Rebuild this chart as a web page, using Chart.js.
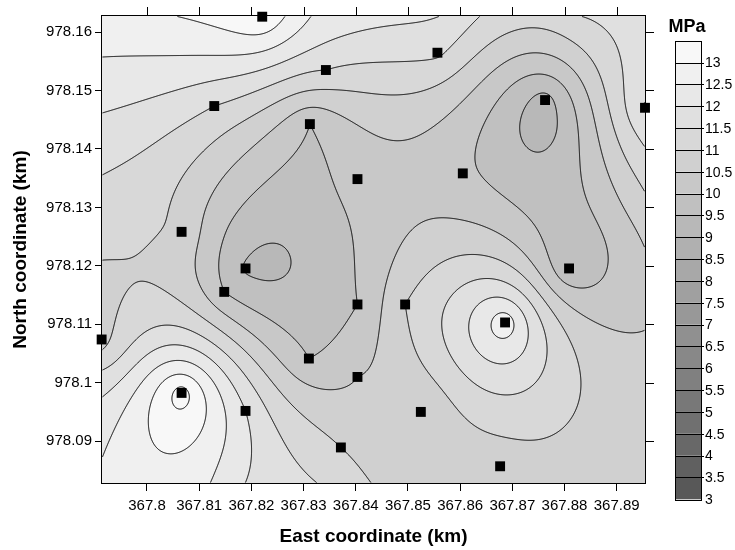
<!DOCTYPE html>
<html>
<head>
<meta charset="utf-8">
<script src="https://cdn.jsdelivr.net/npm/chart.js@4.4.1/dist/chart.umd.min.js"></script>
<style>
  html, body { margin: 0; padding: 0; background: #fff; }
</style>
</head>
<body>
<canvas id="stressMap" width="735" height="550"></canvas>
<script>
// sample locations (km) and stress measured there (MPa)
const eastKm = [367.82208, 367.85565, 367.83428, 367.81289, 367.87627, 367.89542,
  367.83121, 367.84033, 367.86051, 367.80663, 367.81888, 367.88087,
  367.81480, 367.84033, 367.84946, 367.86861, 367.79131, 367.83102,
  367.84033, 367.80663, 367.81888, 367.85247, 367.83715, 367.86766];
const northKm = [978.16262, 978.15646, 978.15350, 978.14734, 978.14836, 978.14704,
  978.14425, 978.13484, 978.13582, 978.12582, 978.11956, 978.11956,
  978.11555, 978.11340, 978.11340, 978.11032, 978.10741, 978.10415,
  978.10100, 978.09827, 978.09519, 978.09502, 978.08894, 978.08572];
const stressMPa = [13.5, 11.6, 11.5, 11.5, 9.3, 12.05,
  10.0, 10.25, 10.1, 10.9, 9.45, 9.5,
  10.0, 10.0, 11.0, 12.85, 10.85, 10.0,
  10.5, 13.75, 12.0, 10.5, 11.0, 10.75];

// values read along the frame of the map (km, km, MPa)
const edgeEastKm = [367.79138, 367.79138, 367.79138, 367.79138, 367.79138, 367.79138, 367.79138, 367.79138, 367.79138, 367.79138,
  367.80542, 367.82648, 367.83146, 367.85617, 367.86383, 367.87340, 367.88298, 367.89542,
  367.89542, 367.89542, 367.89542, 367.89542,
  367.80255, 367.81212, 367.81882, 367.83261, 367.84295];
const edgeNorthKm = [978.16274, 978.15572, 978.14614, 978.13553, 978.12098, 978.10558, 978.10215, 978.09753, 978.08709, 978.08286,
  978.16274, 978.16274, 978.16274, 978.16274, 978.16274, 978.16274, 978.16274, 978.16274,
  978.14032, 978.13262, 978.10900, 978.08286,
  978.08286, 978.08286, 978.08286, 978.08286, 978.08286];
const edgeStressMPa = [12.8, 12.5, 12.0, 11.5, 11.0, 11.0, 11.5, 12.0, 12.5, 12.7,
  13.0, 13.0, 12.5, 12.0, 11.5, 11.2, 11.5, 11.8,
  11.5, 11.0, 10.5, 10.7,
  12.8, 12.5, 12.0, 11.5, 11.0];

// a few values read inside the map, between samples (km, km, MPa)
const innerEastKm = [367.81308, 367.82323, 367.87627];
const innerNorthKm = [978.12782, 978.11995, 978.14357];
const innerStressMPa = [10.25, 9.4, 9.3];

const eastTicks = [367.8, 367.81, 367.82, 367.83, 367.84, 367.85, 367.86, 367.87, 367.88, 367.89];
const northTicks = [978.09, 978.1, 978.11, 978.12, 978.13, 978.14, 978.15, 978.16];
const eastRange = [367.79138, 367.89542];
const northRange = [978.08286, 978.16274];

// contour levels of the colour bar (MPa)
const levels = [3, 3.5, 4, 4.5, 5, 5.5, 6, 6.5, 7, 7.5, 8, 8.5, 9, 9.5, 10, 10.5, 11, 11.5, 12, 12.5, 13];
// contours drawn above the last colour-bar level
const extraLevels = [13.5, 14, 14.5];

// one grey per band, from below 3.5 up to above 13
const bandGrays = ['#585858', '#606060', '#686868', '#707070', '#787878', '#808080', '#888888',
  '#909090', '#989898', '#a0a0a0', '#a8a8a8', '#b0b0b0', '#b8b8b8', '#c0c0c0', '#c8c8c8',
  '#d0d0d0', '#d8d8d8', '#e0e0e0', '#e8e8e8', '#f0f0f0', '#f8f8f8'];

const FONT = "'Liberation Sans', Arial, sans-serif";

// ordinary kriging with a linear variogram
function solve(A, b) {
  const m = b.length;
  for (let c = 0; c < m; c++) {
    let p = c;
    for (let r = c + 1; r < m; r++) if (Math.abs(A[r][c]) > Math.abs(A[p][c])) p = r;
    [A[c], A[p]] = [A[p], A[c]];
    [b[c], b[p]] = [b[p], b[c]];
    for (let r = c + 1; r < m; r++) {
      const f = A[r][c] / A[c][c];
      for (let k = c; k < m; k++) A[r][k] -= f * A[c][k];
      b[r] -= f * b[c];
    }
  }
  const out = new Array(m).fill(0);
  for (let r = m - 1; r >= 0; r--) {
    let s = b[r];
    for (let k = r + 1; k < m; k++) s -= A[r][k] * out[k];
    out[r] = s / A[r][r];
  }
  return out;
}

const knotE = eastKm.concat(edgeEastKm, innerEastKm);
const knotN = northKm.concat(edgeNorthKm, innerNorthKm);
const knotV = stressMPa.concat(edgeStressMPa, innerStressMPa);
const n = knotE.length;
const krigA = [], krigB = [];
for (let i = 0; i < n; i++) {
  const row = [];
  for (let j = 0; j < n; j++) row.push(Math.hypot(knotE[i] - knotE[j], knotN[i] - knotN[j]));
  row.push(1);
  krigA.push(row);
  krigB.push(knotV[i]);
}
krigA.push(new Array(n).fill(1).concat([0]));
krigB.push(0);
const weights = solve(krigA, krigB);

function stressAt(e, nk) {
  let s = weights[n];
  for (let i = 0; i < n; i++) s += weights[i] * Math.hypot(e - knotE[i], nk - knotN[i]);
  return s;
}

function bandOf(v) {
  let k = -1;
  for (let i = 0; i < levels.length; i++) if (v >= levels[i]) k = i;
  return Math.max(0, k);
}

const bandRGB = bandGrays.map(h => [1, 3, 5].map(o => parseInt(h.substr(o, 2), 16)));

const contourPlugin = {
  id: 'contourField',
  beforeDatasetsDraw(chart) {
    const {ctx, chartArea: a, scales: {x, y}} = chart;
    const x0 = Math.round(a.left), y0 = Math.round(a.top);
    const W = Math.round(a.right) - x0, H = Math.round(a.bottom) - y0;
    const field = new Float64Array(W * H);
    for (let j = 0; j < H; j++) {
      const nv = y.getValueForPixel(y0 + j + 0.5);
      for (let i = 0; i < W; i++) field[j * W + i] = stressAt(x.getValueForPixel(x0 + i + 0.5), nv);
    }
    const img = ctx.createImageData(W, H);
    for (let p = 0; p < W * H; p++) {
      const c = bandRGB[bandOf(field[p])];
      img.data[p * 4] = c[0]; img.data[p * 4 + 1] = c[1]; img.data[p * 4 + 2] = c[2]; img.data[p * 4 + 3] = 255;
    }
    ctx.putImageData(img, x0, y0);

    // contour lines by marching squares
    ctx.save();
    ctx.beginPath();
    ctx.rect(a.left, a.top, a.right - a.left, a.bottom - a.top);
    ctx.clip();
    ctx.strokeStyle = '#000';
    ctx.lineWidth = 1;
    const all = levels.concat(extraLevels);
    for (const L of all) {
      ctx.beginPath();
      for (let j = 0; j < H - 1; j++) {
        for (let i = 0; i < W - 1; i++) {
          const va = field[j * W + i], vb = field[j * W + i + 1];
          const vc = field[(j + 1) * W + i + 1], vd = field[(j + 1) * W + i];
          const sa = va >= L, sb = vb >= L, sc = vc >= L, sd = vd >= L;
          if (sa === sb && sb === sc && sc === sd) continue;
          const px = x0 + i + 0.5, py = y0 + j + 0.5;
          const top = sa !== sb ? [px + (L - va) / (vb - va), py] : null;
          const right = sb !== sc ? [px + 1, py + (L - vb) / (vc - vb)] : null;
          const bottom = sd !== sc ? [px + (L - vd) / (vc - vd), py + 1] : null;
          const left = sa !== sd ? [px, py + (L - va) / (vd - va)] : null;
          const pts = [top, right, bottom, left].filter(Boolean);
          if (pts.length === 2) {
            ctx.moveTo(pts[0][0], pts[0][1]); ctx.lineTo(pts[1][0], pts[1][1]);
          } else if (pts.length === 4) {
            const centre = (va + vb + vc + vd) / 4 >= L;
            if (centre === sa) {
              ctx.moveTo(top[0], top[1]); ctx.lineTo(right[0], right[1]);
              ctx.moveTo(bottom[0], bottom[1]); ctx.lineTo(left[0], left[1]);
            } else {
              ctx.moveTo(top[0], top[1]); ctx.lineTo(left[0], left[1]);
              ctx.moveTo(right[0], right[1]); ctx.lineTo(bottom[0], bottom[1]);
            }
          }
        }
      }
      ctx.stroke();
    }
    ctx.restore();

    // frame and the outward ticks on the top and right sides
    ctx.save();
    ctx.strokeStyle = '#000';
    ctx.lineWidth = 1;
    ctx.strokeRect(x0 - 0.5, y0 - 0.5, W + 1, H + 1);
    ctx.beginPath();
    for (const v of eastTicks) {
      const px = Math.round(x.getPixelForValue(v)) + 0.5;
      ctx.moveTo(px, y0 - 0.5); ctx.lineTo(px, y0 - 9);
    }
    for (const v of northTicks) {
      const py = Math.round(y.getPixelForValue(v)) + 0.5;
      ctx.moveTo(x0 + W + 0.5, py); ctx.lineTo(x0 + W + 9, py);
    }
    ctx.stroke();
    ctx.restore();
  },
  afterDraw(chart) {
    // colour bar
    const {ctx} = chart;
    const left = 675, right = 701, top = 40.7, bottom = 499.3;
    const bands = bandGrays.length;
    const h = (bottom - top) / bands;
    ctx.save();
    for (let k = 0; k < bands; k++) {
      ctx.fillStyle = bandGrays[k];
      ctx.fillRect(left, bottom - (k + 1) * h, right - left, h);
    }
    ctx.strokeStyle = '#000';
    ctx.lineWidth = 1;
    ctx.beginPath();
    for (let k = 1; k < bands; k++) {
      const yy = Math.round(bottom - k * h) + 0.5;
      ctx.moveTo(left, yy); ctx.lineTo(right + 3, yy);
    }
    ctx.stroke();
    ctx.strokeRect(left + 0.5, Math.round(top) + 0.5, right - left, Math.round(bottom - top));
    ctx.fillStyle = '#000';
    ctx.font = '14px ' + FONT;
    ctx.textAlign = 'left';
    ctx.textBaseline = 'middle';
    levels.forEach((lv, k) => ctx.fillText(String(lv), right + 4, bottom - k * h + 1));
    ctx.font = 'bold 18px ' + FONT;
    ctx.textAlign = 'center';
    ctx.fillText('MPa', 687, 27);
    ctx.restore();
  }
};

const fmt = v => String(+Number(v).toFixed(2));

new Chart(document.getElementById('stressMap'), {
  type: 'scatter',
  data: {
    datasets: [{
      label: 'Samples',
      data: eastKm.map((e, i) => ({x: e, y: northKm[i]})),
      pointStyle: 'rect',
      radius: 7,
      backgroundColor: '#000',
      borderColor: '#000',
      borderWidth: 0,
      clip: false
    }]
  },
  options: {
    responsive: false,
    animation: false,
    devicePixelRatio: 1,
    layout: { padding: { left: 0, right: 90, top: 16, bottom: 0 } },
    plugins: { legend: { display: false }, tooltip: { enabled: false } },
    scales: {
      x: {
        type: 'linear',
        position: 'bottom',
        min: eastRange[0],
        max: eastRange[1],
        afterBuildTicks: s => { s.ticks = eastTicks.map(v => ({value: v})); },
        afterFit: s => { s.height = 67; },
        ticks: { callback: fmt, autoSkip: false, maxRotation: 0, padding: 6, color: '#000',
          font: { family: FONT, size: 15 } },
        grid: { drawOnChartArea: false, drawTicks: true, tickLength: 8, color: '#000' },
        border: { display: false },
        title: { display: true, text: 'East coordinate (km)', color: '#000',
          font: { family: FONT, size: 19, weight: 'bold' }, padding: { top: 0, bottom: 2 } }
      },
      y: {
        type: 'linear',
        position: 'left',
        min: northRange[0],
        max: northRange[1],
        afterBuildTicks: s => { s.ticks = northTicks.map(v => ({value: v})); },
        afterFit: s => { s.width = 102; },
        ticks: { callback: fmt, autoSkip: false, padding: 3, color: '#000',
          font: { family: FONT, size: 15 } },
        grid: { drawOnChartArea: false, drawTicks: true, tickLength: 7, color: '#000' },
        border: { display: false },
        title: { display: true, text: 'North coordinate (km)', color: '#000',
          font: { family: FONT, size: 19, weight: 'bold' }, padding: { top: 9, bottom: 0 } }
      }
    }
  },
  plugins: [contourPlugin]
});
</script>
</body>
</html>
